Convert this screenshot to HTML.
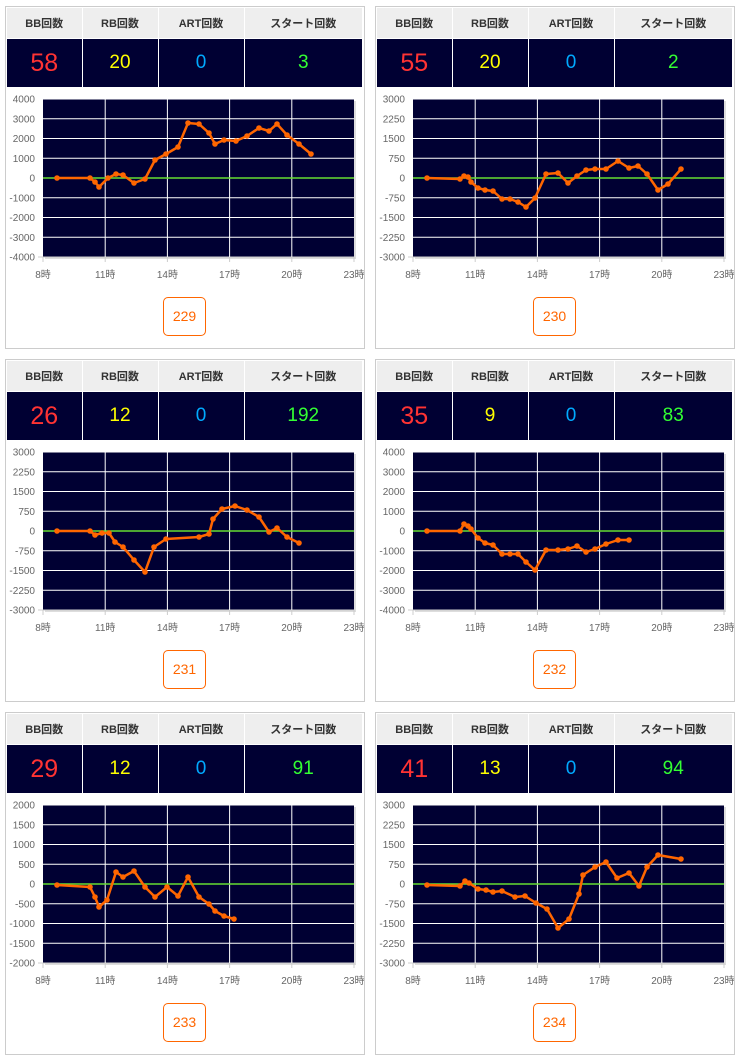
<!DOCTYPE html>
<html><head><meta charset="utf-8"><style>
body{margin:0;width:740px;height:1059px;background:#fff;position:relative;overflow:hidden;font-family:"Liberation Sans","Noto Sans CJK JP",sans-serif}
.p{position:absolute;width:358px;height:341px;border:1px solid #ccc;background:#fff}
table{position:absolute;left:1px;top:1px;width:356px;border-collapse:collapse;table-layout:fixed}
th{background:#eee;height:30px;font-size:11px;color:#333;font-weight:bold;border-right:1px solid #fff;padding:0}
td{background:#000033;height:48px;text-align:center;border-right:1px solid #fff;border-top:1px solid #fff;padding:0;font-size:19px}
.btn{position:absolute;left:157px;top:290px;width:41px;height:37px;border:1px solid #ff6600;border-radius:5px;color:#ff6600;font-size:14px;text-align:center;line-height:37px}
svg{position:absolute;left:0;top:0}
</style></head><body>
<div id="root"></div>
<script>
var P=[
{v:[58,20,0,3],n:229,r:4000,pts:[[56,177],[89,177],[94,181],[98,186],[107,177],[115,173],[122,174],[133,182],[144,178],[154,159],[165,153],[177,146],[187,122],[198,123],[208,132],[214,143],[223,139],[235,140],[246,135],[258,127],[268,130],[276,123],[286,134],[298,143],[310,153]]},
{v:[55,20,0,2],n:230,r:3000,pts:[[426,177],[459,178],[463,175],[467,176],[470,181],[477,187],[484,189],[492,190],[501,198],[509,198],[517,201],[525,206],[534,197],[545,173],[557,172],[567,182],[576,175],[585,169],[594,168],[605,168],[617,160],[628,167],[637,165],[646,173],[657,189],[667,183],[680,168]]},
{v:[26,12,0,192],n:231,r:3000,pts:[[56,530],[89,530],[94,534],[101,532],[108,532],[114,541],[122,546],[133,559],[144,571],[153,546],[165,538],[198,536],[208,533],[212,518],[221,508],[234,505],[246,509],[258,516],[268,531],[276,527],[286,536],[298,542]]},
{v:[35,9,0,83],n:232,r:4000,pts:[[426,530],[459,530],[463,523],[467,525],[470,528],[477,537],[484,542],[492,544],[501,553],[509,553],[517,553],[525,561],[534,569],[545,549],[557,549],[567,548],[576,545],[585,551],[594,548],[605,543],[617,539],[628,539]]},
{v:[29,12,0,91],n:233,r:2000,pts:[[56,884],[89,886],[94,896],[98,906],[106,899],[115,871],[122,876],[133,870],[144,886],[154,896],[166,886],[177,895],[187,876],[198,896],[208,903],[214,910],[223,915],[233,918]]},
{v:[41,13,0,94],n:234,r:3000,pts:[[426,884],[459,885],[464,880],[468,882],[477,888],[485,889],[492,891],[501,890],[514,896],[524,895],[535,902],[546,908],[557,927],[568,918],[578,893],[582,874],[594,866],[605,861],[616,877],[628,872],[638,885],[646,866],[657,854],[680,858]]}
];
var h='';
P.forEach(function(p,i){
 var ox=i%2?375:5, oy=6+Math.floor(i/2)*353;
 h+='<div class="p" style="left:'+ox+'px;top:'+oy+'px">';
 h+='<table><colgroup><col style="width:75px"><col style="width:76px"><col style="width:86px"><col></colgroup><tr><th>BB回数</th><th>RB回数</th><th>ART回数</th><th>スタート回数</th></tr><tr><td style="color:#ff3333;font-size:25px">'+p.v[0]+'</td><td style="color:#ffff00">'+p.v[1]+'</td><td style="color:#00aaff">'+p.v[2]+'</td><td style="color:#33ff33">'+p.v[3]+'</td></tr></table>';
 var s='<svg width="358" height="341" font-family="Liberation Sans, sans-serif" font-size="10" fill="#666">';
 var L=37,T=92,W=311,H=158;
 s+='<rect x="'+(L+2)+'" y="'+(T+2)+'" width="'+W+'" height="'+H+'" fill="#ddd"/>';
 s+='<rect x="'+L+'" y="'+T+'" width="'+W+'" height="'+H+'" fill="#000033"/>';
 for(var k=0;k<=8;k++){var y=T+k*H/8;s+='<line x1="'+(L-5)+'" x2="'+(L+W)+'" y1="'+y+'" y2="'+y+'" stroke="'+(k==8?'#ccc':'#fff')+'" stroke-width="1"/>';
  s+='<text x="'+(L-8)+'" y="'+(y+3.5)+'" text-anchor="end">'+(p.r-k*p.r/4)+'</text>';}
 var hrs=['8時','11時','14時','17時','20時','23時'];
 for(var k=0;k<6;k++){var x=L+k*W/5;if(k>0&&k<5)s+='<line x1="'+x+'" x2="'+x+'" y1="'+T+'" y2="'+(T+H)+'" stroke="#fff"/>';
  s+='<line x1="'+x+'" x2="'+x+'" y1="'+(T+H)+'" y2="'+(T+H+5)+'" stroke="#ccc"/>';
  s+='<text x="'+x+'" y="'+(T+H+21)+'" text-anchor="middle">'+hrs[k]+'</text>';}
 s+='<line x1="'+L+'" x2="'+(L+W)+'" y1="'+(T+H/2)+'" y2="'+(T+H/2)+'" stroke="#66dd33" stroke-width="1.5"/>';
 var pts=p.pts.map(function(q){return (q[0]-ox)+','+(q[1]-oy)}).join(' ');
 s+='<polyline points="'+pts+'" fill="none" stroke="#ff6600" stroke-width="2.5" stroke-linejoin="round"/>';
 p.pts.forEach(function(q){s+='<circle cx="'+(q[0]-ox)+'" cy="'+(q[1]-oy)+'" r="2.8" fill="#ff6600"/>'});
 s+='</svg>';
 h+=s+'<div class="btn">'+p.n+'</div></div>';
});
document.getElementById('root').innerHTML=h;
</script>
</body></html>
